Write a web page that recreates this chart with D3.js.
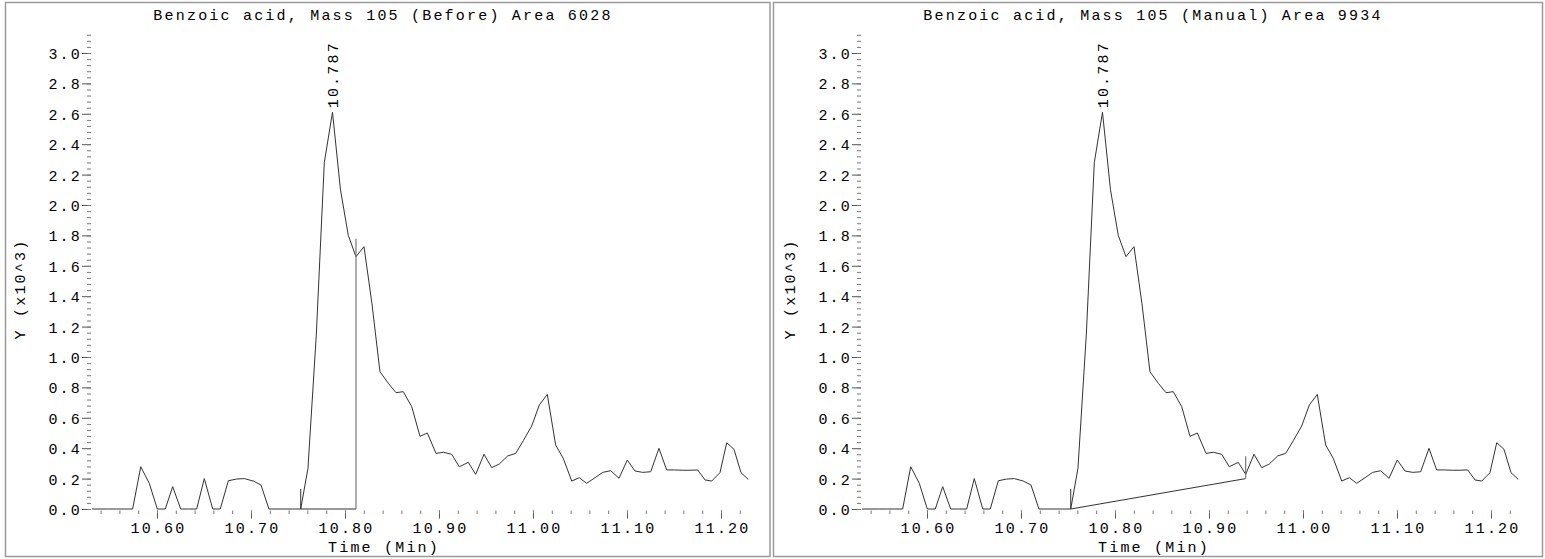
<!DOCTYPE html>
<html>
<head>
<meta charset="utf-8">
<script src="https://cdn.jsdelivr.net/npm/d3@7"></script>
<style>
  html, body { margin: 0; padding: 0; background: #ffffff; }
  svg { display: block; }
  text { font-family: "Liberation Mono", "DejaVu Sans Mono", monospace; font-size: 15px; letter-spacing: 2.2px; fill: #000; }
</style>
</head>
<body>
<svg id="chart" width="1545" height="559"></svg>
<script>
// ---- Data ----
const times = [10.5309, 10.5394, 10.5482, 10.5567, 10.5654, 10.5741, 10.5827, 10.5918, 10.6003, 10.6088,
  10.6167, 10.6252, 10.6337, 10.6422, 10.6503, 10.6593, 10.6673, 10.6759, 10.6848, 10.6929,
  10.7024, 10.7106, 10.7191, 10.7277, 10.7362, 10.7444, 10.7529, 10.7606, 10.7695, 10.7780,
  10.7867, 10.7952, 10.8035, 10.8117, 10.8202, 10.8287, 10.8372, 10.8461, 10.8543, 10.8620,
  10.8710, 10.8798, 10.8876, 10.8968, 10.9046, 10.9135, 10.9216, 10.9312, 10.9390, 10.9479,
  10.9561, 10.9641, 10.9731, 10.9816, 10.9897, 10.9986, 11.0067, 11.0152, 11.0241, 11.0322,
  11.0412, 11.0493, 11.0571, 11.0660, 11.0741, 11.0827, 11.0915, 11.1003, 11.1085, 11.1167,
  11.1252, 11.1340, 11.1422, 11.1505, 11.1588, 11.1670, 11.1752, 11.1830, 11.1901, 11.1989,
  11.2061, 11.2138, 11.2213, 11.2290];
const intensity = [0, 0, 0, 0, 0, 0, 0.278, 0.169, 0, 0,
  0.147, 0, 0, 0, 0.200, 0, 0, 0.186, 0.197, 0.200,
  0.184, 0.158, 0, 0, 0, 0, 0, 0.268, 1.150, 2.280,
  2.610, 2.100, 1.800, 1.660, 1.726, 1.350, 0.903, 0.827, 0.765, 0.772,
  0.673, 0.478, 0.500, 0.366, 0.373, 0.360, 0.278, 0.307, 0.228, 0.360,
  0.272, 0.296, 0.349, 0.366, 0.450, 0.546, 0.684, 0.754, 0.421, 0.333,
  0.184, 0.206, 0.169, 0.206, 0.241, 0.252, 0.202, 0.322, 0.250, 0.241,
  0.245, 0.399, 0.257, 0.257, 0.255, 0.255, 0.257, 0.191, 0.184, 0.239,
  0.436, 0.393, 0.239, 0.195];

const panelTitles = ["Benzoic acid, Mass 105 (Before) Area 6028",
                     "Benzoic acid, Mass 105 (Manual) Area 9934"];
// integration baselines: [startTime, startValue, endTime, endValue]
const baselineBefore = [10.7529, 0, 10.8117, 0];
const baselineManual = [10.7529, 0, 10.9390, 0.20];
const peakTime = 10.787;
const peakValue = 2.610;
const peakLabel = "10.787";

const xTickValues = [10.60, 10.70, 10.80, 10.90, 11.00, 11.10, 11.20];
const xTickLabels = ["10.60", "10.70", "10.80", "10.90", "11.00", "11.10", "11.20"];
const yTickValues = [0.0, 0.2, 0.4, 0.6, 0.8, 1.0, 1.2, 1.4, 1.6, 1.8, 2.0, 2.2, 2.4, 2.6, 2.8, 3.0];
const yTickLabels = ["0.0", "0.2", "0.4", "0.6", "0.8", "1.0", "1.2", "1.4", "1.6", "1.8", "2.0", "2.2", "2.4", "2.6", "2.8", "3.0"];
const xAxisTitle = "Time (Min)";
const yAxisTitle = "Y (x10^3)";

// ---- Drawing ----
const svg = d3.select("#chart");
const points = times.map((t, i) => ({ t: t, v: intensity[i] }));

const x = d3.scaleLinear().domain([10.60, 11.20]).range([157, 721]);
const y = d3.scaleLinear().domain([0, 3.0]).range([509, 53]);

function drawPanel(offsetX, title, baseline, rectX, rectW) {
  const g = svg.append("g").attr("transform", `translate(${offsetX},0)`);

  // frame
  svg.append("rect")
    .attr("x", rectX).attr("y", 2.5)
    .attr("width", rectW).attr("height", 554)
    .attr("fill", "none").attr("stroke", "#9a9a9a").attr("stroke-width", 1.5);

  // title
  g.append("text").attr("x", 383).attr("y", 20)
    .attr("text-anchor", "middle").text(title);

  // y axis: major ticks with labels
  const yMajor = d3.axisLeft(y).tickValues(yTickValues)
    .tickFormat((d, i) => yTickLabels[i]).tickSize(9).tickPadding(0);
  const ya = g.append("g").attr("transform", "translate(91,0)").call(yMajor);
  ya.select(".domain").remove();
  ya.selectAll("line").attr("stroke", "#555");
  ya.selectAll("text").attr("font-family", null).attr("font-size", null)
    .attr("dy", "0.36em");

  // y axis: minor ticks
  const yMinor = d3.axisLeft(y).tickValues(d3.range(0, 3.13, 0.04))
    .tickFormat("").tickSize(4);
  const ym = g.append("g").attr("transform", "translate(91,0)").call(yMinor);
  ym.select(".domain").remove();
  ym.selectAll("line").attr("stroke", "#777");

  // x axis: major ticks
  const xMajor = d3.axisBottom(x).tickValues(xTickValues)
    .tickFormat((d, i) => xTickLabels[i]).tickSize(8).tickPadding(4);
  const xa = g.append("g").attr("transform", "translate(0,510.5)").call(xMajor);
  xa.select(".domain").remove();
  xa.selectAll("line").attr("stroke", "#555");
  xa.selectAll("text").attr("font-family", null).attr("font-size", null)
    .attr("dx", "1px");

  // x axis: minor ticks
  const xMinor = d3.axisBottom(x).tickValues(d3.range(10.54, 11.225, 0.02))
    .tickFormat("").tickSize(3.5);
  const xm = g.append("g").attr("transform", "translate(0,510.5)").call(xMinor);
  xm.select(".domain").remove();
  xm.selectAll("line").attr("stroke", "#777");

  // axis titles
  g.append("text").attr("x", 384).attr("y", 552)
    .attr("text-anchor", "middle").text(xAxisTitle);
  g.append("text")
    .attr("transform", `translate(25,289) rotate(-90)`)
    .attr("text-anchor", "middle").text(yAxisTitle);

  // data line
  const line = d3.line().x(d => x(d.t)).y(d => y(d.v));
  g.append("path").datum(points)
    .attr("d", line)
    .attr("fill", "none").attr("stroke", "#333").attr("stroke-width", 1);

  // integration baseline
  const [t0, v0, t1, v1] = baseline;
  g.append("line")
    .attr("x1", x(t0)).attr("y1", y(v0))
    .attr("x2", x(t1)).attr("y2", y(v1))
    .attr("stroke", "#333").attr("stroke-width", 1);

  // start marker
  const curveAt = t => intensity[times.indexOf(t)];
  g.append("line")
    .attr("x1", x(t0)).attr("y1", y(v0))
    .attr("x2", x(t0)).attr("y2", y(curveAt(t0)) - 20)
    .attr("stroke", "#333").attr("stroke-width", 1);
  // end marker
  g.append("line")
    .attr("x1", x(t1)).attr("y1", y(v1))
    .attr("x2", x(t1)).attr("y2", y(curveAt(t1)) - 18)
    .attr("stroke", "#777").attr("stroke-width", 1.2);

  // peak label
  g.append("text")
    .attr("transform", `translate(${x(peakTime) + 5},${y(peakValue) - 4}) rotate(-90)`)
    .attr("text-anchor", "start").text(peakLabel);
}

drawPanel(0, panelTitles[0], baselineBefore, 5.5, 764.5);
drawPanel(770, panelTitles[1], baselineManual, 773.5, 769);
</script>
</body>
</html>
